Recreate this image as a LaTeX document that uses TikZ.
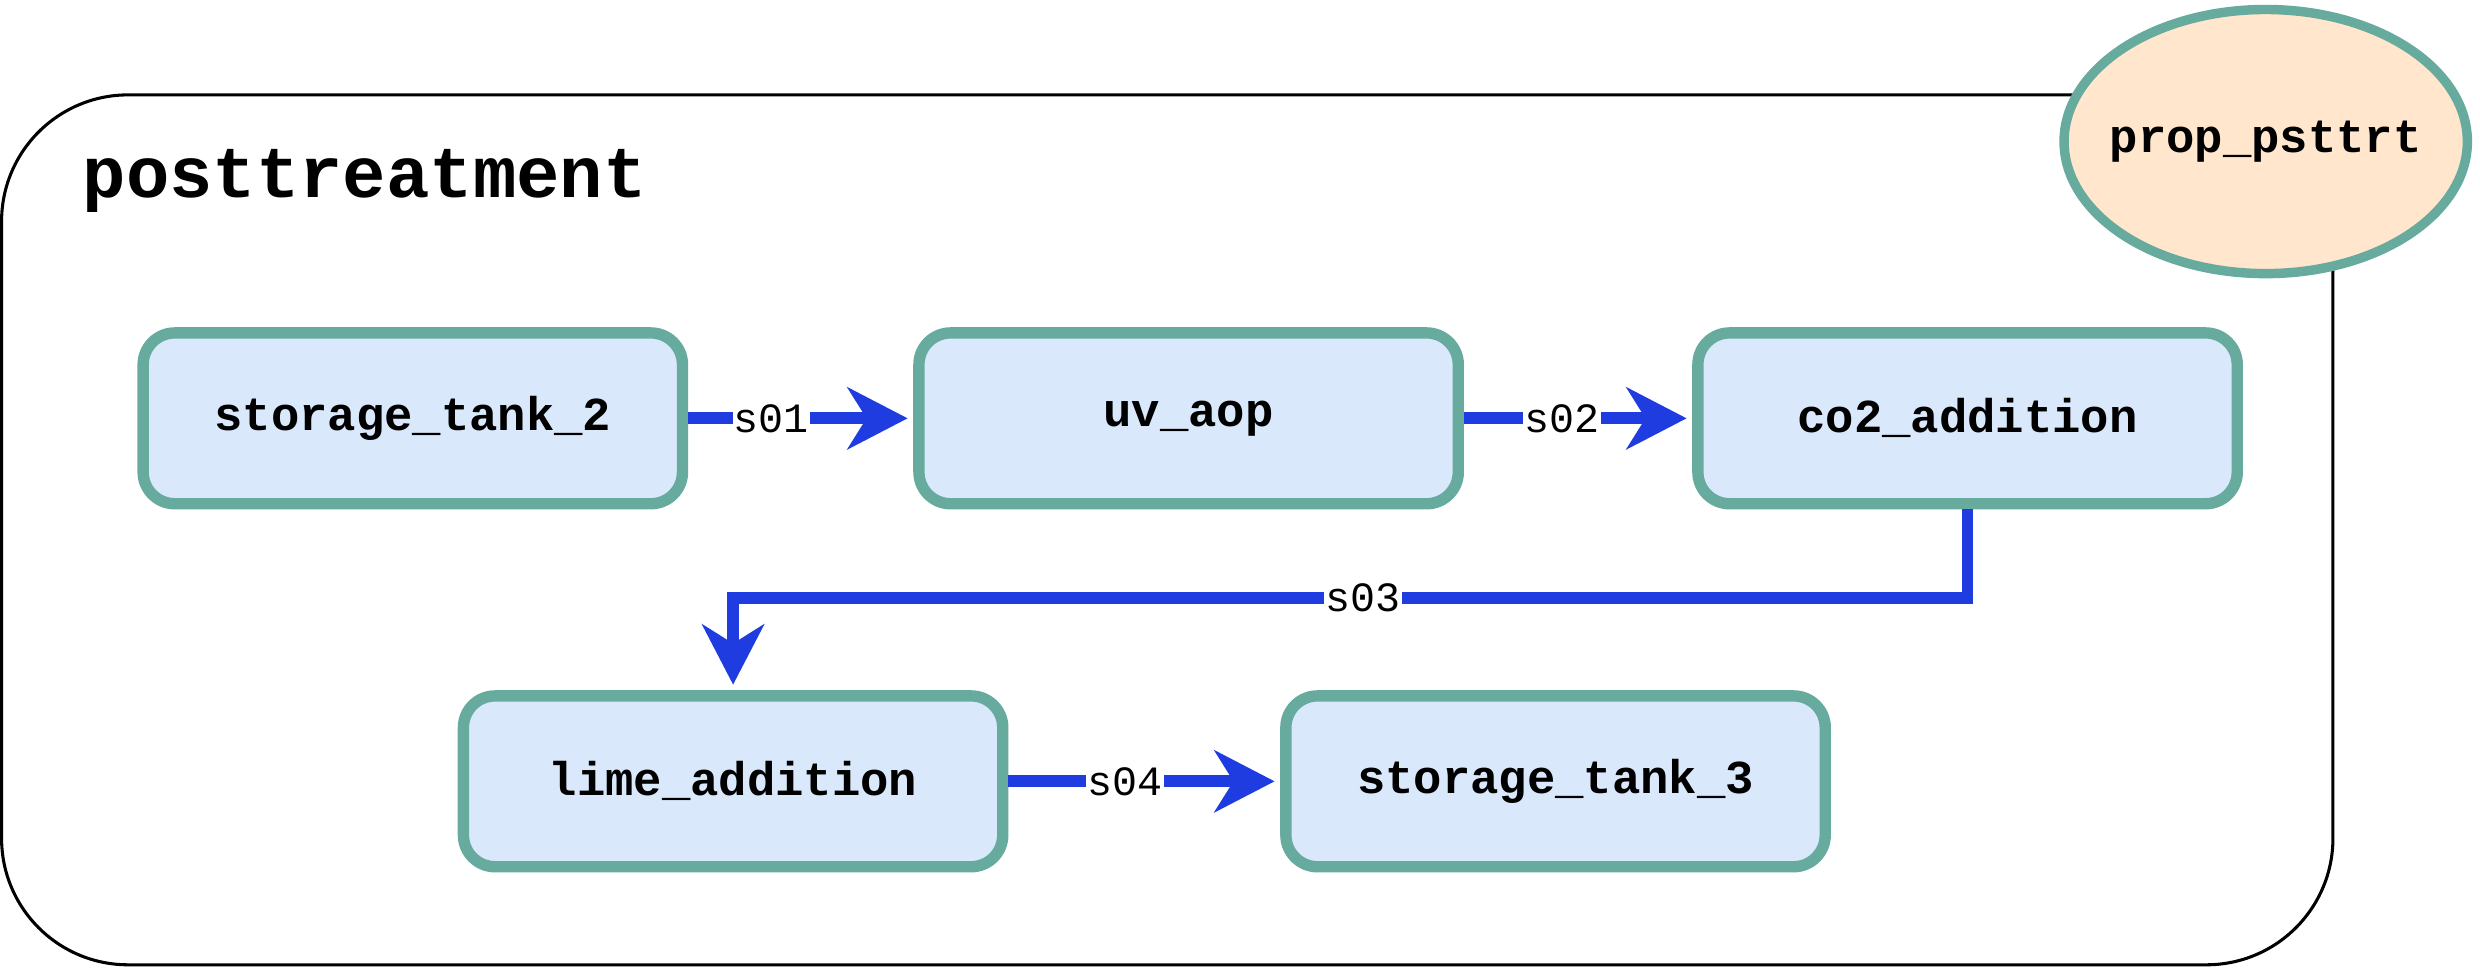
\documentclass[tikz,border=0pt]{standalone}
\usepackage{fontspec}
\setmonofont{Liberation Mono}
\usetikzlibrary{arrows.meta,shapes.geometric}

\definecolor{unitfill}{HTML}{DAE8FC}
\definecolor{unitline}{HTML}{67AB9F}
\definecolor{propfill}{HTML}{FFE6CC}
\definecolor{flowblue}{HTML}{1F3CE0}

\begin{document}
\begin{tikzpicture}[
    unit/.style={draw=unitline, fill=unitfill, line width=4.1pt, rounded corners=0.4cm,
        minimum width=6.82cm, minimum height=2.16cm, inner sep=0pt,
        font=\ttfamily\bfseries\fontsize{17}{20}\selectfont},
    prop/.style={ellipse, draw=unitline, fill=propfill, line width=3.4pt,
        minimum width=5.1cm, minimum height=3.34cm, inner ysep=0pt, inner xsep=-0.4cm,
        font=\ttfamily\bfseries\fontsize{17}{20}\selectfont},
    flow/.style={draw=flowblue, line width=4.2pt, shorten >=2pt,
        -{Stealth[length=0.76cm, width=0.78cm, inset=0.24cm]}},
    lbl/.style={fill=white, inner sep=0.5pt, text=black,
        font=\ttfamily\fontsize{15}{18}\selectfont}
]

\useasboundingbox (0,0) rectangle (31.36,12.24);

% cluster
\draw [line width=1.1pt, rounded corners=1.6cm] (0.02,0.04) rectangle (29.5,11.04);
\node [anchor=base west, inner sep=0pt, font=\ttfamily\bfseries\fontsize{26}{31}\selectfont]
    (title) at (1.04,9.74) {posttreatment};

\node [prop] (prop) at (28.65,10.45) {prop\_psttrt};

% units
\node [unit] (st2)   at (5.22,6.95)  {storage\_tank\_2};
\node [unit] (uvaop) at (15.03,6.95) {uv\_aop};
\node [unit] (co2)   at (24.88,6.95) {co2\_addition};
\node [unit] (lime)  at (9.27,2.36)  {lime\_addition};
\node [unit] (st3)   at (19.67,2.36) {storage\_tank\_3};

\coordinate (s03bend) at (24.88,4.68);

% streams
\draw [flow] (st2.east) -- node [lbl, pos=0.37] {s01} (uvaop.west);
\draw [flow] (uvaop.east) -- node [lbl, pos=0.43] {s02} (co2.west);
\draw [flow] (co2.south) -- (s03bend) -| node [lbl, pos=0.245] {s03} (lime.north);
\draw [flow] (lime.east) -- node [lbl, pos=0.43] {s04} (st3.west);

\end{tikzpicture}
\end{document}
